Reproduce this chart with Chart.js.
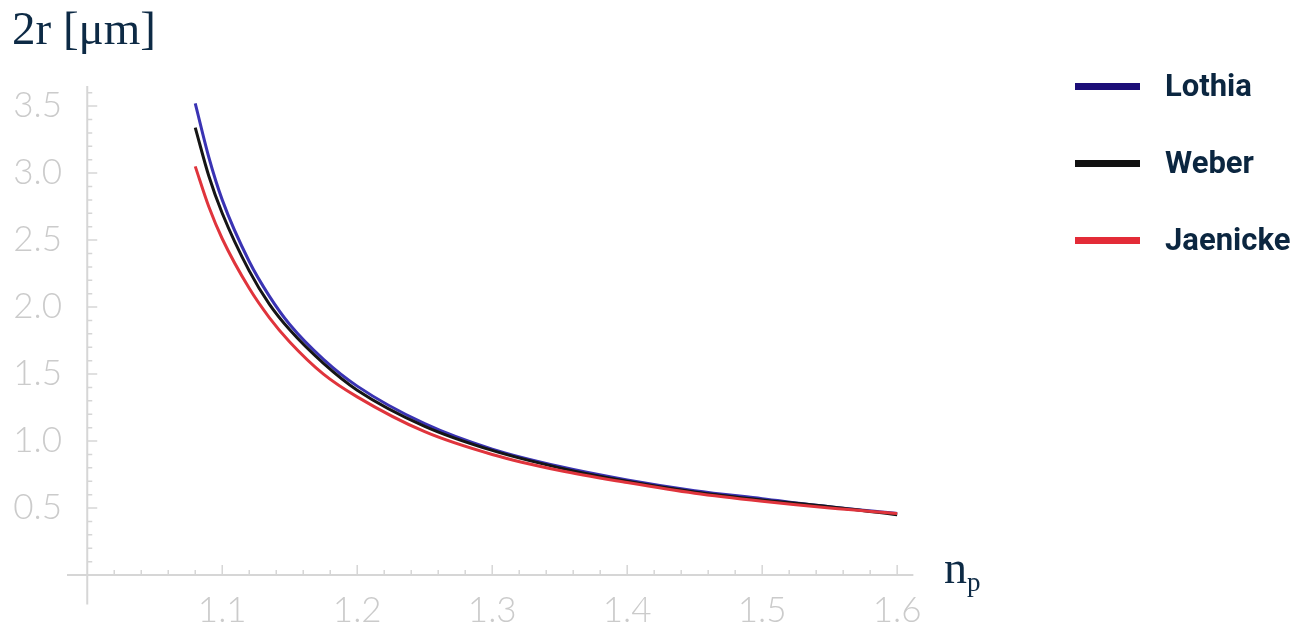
<!DOCTYPE html>
<html>
<head>
<meta charset="utf-8">
<script src="https://cdn.jsdelivr.net/npm/chart.js@4.4.0/dist/chart.umd.min.js"></script>
<style>
  body { margin: 0; background: #fff; }
  #wrap { position: relative; width: 1301px; height: 635px; }
  #wrap canvas { position: absolute; left: 0; top: 0; }
  .axt { position: absolute; font-family: 'Liberation Serif', serif; color: #0d2a45; white-space: nowrap; }
  .legend { position: absolute; left: 1075px; font-family: Roboto, sans-serif; font-weight: 700; font-size: 31px; color: #0b2640; }
  .legend .row { position: absolute; left: 0; height: 0; white-space: nowrap; }
  .legend .sw { position: absolute; left: 0; top: -3px; width: 65px; height: 7px; }
  .legend .tx { position: absolute; left: 90px; top: -19px; line-height: 38px; }
</style>
</head>
<body>
<div id="wrap">
  <canvas id="chart" width="1301" height="635"></canvas>
  <div class="axt" style="left:12px; top:1px; font-size:47px;">2r [μm]</div>
  <div class="axt" style="left:944px; top:541px; font-size:46px;">n<sub style="font-size:27px; vertical-align:-8px;">p</sub></div>
  <div class="legend" id="legend"></div>
</div>
<script>
// refractive index of particle
const nP = [1.08, 1.09, 1.10, 1.12, 1.135, 1.15, 1.175, 1.20, 1.25, 1.30, 1.35, 1.40, 1.45, 1.50, 1.55, 1.60];

// particle diameter 2r in µm
const lothia   = [3.52, 3.12, 2.80, 2.34, 2.08, 1.87, 1.61, 1.41, 1.13, 0.94, 0.81, 0.71, 0.63, 0.57, 0.51, 0.46];
const weber    = [3.34, 2.98, 2.70, 2.27, 2.02, 1.83, 1.58, 1.38, 1.11, 0.93, 0.80, 0.70, 0.62, 0.56, 0.51, 0.45];
const jaenicke = [3.05, 2.75, 2.51, 2.14, 1.92, 1.74, 1.50, 1.33, 1.07, 0.90, 0.78, 0.69, 0.61, 0.55, 0.50, 0.46];

const seriesNames = ['Lothia', 'Weber', 'Jaenicke'];
const xTicks = [1.1, 1.2, 1.3, 1.4, 1.5, 1.6];
const yTicks = [0.5, 1.0, 1.5, 2.0, 2.5, 3.0, 3.5];

const lineColors = ['#3a33b3', '#151515', '#e0343c'];
const legendColors = ['#1c0e78', '#111111', '#e32b37'];
const tickFont = { family: "Lato, sans-serif", size: 35, weight: 300 };

// light grey axes crossing at (1.0, 0) with small tick marks
const axesPlugin = {
    id: 'axes',
    beforeDatasetsDraw(chart) {
        const ctx = chart.ctx;
        const x = chart.scales.x;
        const y = chart.scales.y;
        const x0 = x.getPixelForValue(1.0);
        const y0 = y.getPixelForValue(0);
        ctx.save();
        ctx.strokeStyle = '#d6d6d6';
        ctx.lineWidth = 2;
        ctx.beginPath();
        ctx.moveTo(x.getPixelForValue(0.985), y0);
        ctx.lineTo(x.getPixelForValue(1.612), y0);
        ctx.moveTo(x0, y.getPixelForValue(3.65));
        ctx.lineTo(x0, y.getPixelForValue(-0.22));
        ctx.stroke();
        ctx.lineWidth = 1.5;
        ctx.beginPath();
        for (let i = 1; i <= 30; i++) {
            const px = x.getPixelForValue(1 + i * 0.02);
            const len = i % 5 === 0 ? 10 : 5;
            ctx.moveTo(px, y0);
            ctx.lineTo(px, y0 - len);
        }
        for (let i = 1; i <= 36; i++) {
            const py = y.getPixelForValue(i * 0.1);
            const len = i % 5 === 0 ? 10 : 5;
            ctx.moveTo(x0, py);
            ctx.lineTo(x0 + len, py);
        }
        ctx.stroke();
        ctx.restore();
    }
};

const datasets = [lothia, weber, jaenicke].map((vals, i) => ({
    label: seriesNames[i],
    data: nP.map((n, k) => ({ x: n, y: vals[k] })),
    borderColor: lineColors[i],
    borderWidth: 3,
    pointRadius: 0,
    fill: false,
    cubicInterpolationMode: 'monotone'
}));
// draw red first, blue on top
datasets.reverse();

new Chart(document.getElementById('chart').getContext('2d'), {
    type: 'line',
    data: { datasets: datasets },
    options: {
        responsive: false,
        animation: false,
        layout: { padding: { top: 86, right: 391, left: 0, bottom: 0 } },
        scales: {
            x: {
                type: 'linear',
                min: 0.985,
                max: 1.6095,
                grid: { display: false, drawTicks: false },
                border: { display: false },
                ticks: { font: tickFont, color: '#cbcbcb', padding: 8, maxRotation: 0 },
                afterBuildTicks: s => { s.ticks = xTicks.map(v => ({ value: v })); },
                afterFit: s => { s.height = 53; }
            },
            y: {
                type: 'linear',
                min: -0.052,
                max: 3.65,
                grid: { display: false, drawTicks: false },
                border: { display: false },
                ticks: { font: tickFont, color: '#cbcbcb', padding: 5, callback: v => v.toFixed(1) },
                afterBuildTicks: s => { s.ticks = yTicks.map(v => ({ value: v })); },
                afterFit: s => { s.width = 67; }
            }
        },
        plugins: {
            legend: { display: false },
            tooltip: { enabled: false }
        }
    },
    plugins: [axesPlugin]
});

// legend on the right
const legendEl = document.getElementById('legend');
const rowTops = [86, 163, 240];
seriesNames.forEach((name, i) => {
    const row = document.createElement('div');
    row.className = 'row';
    row.style.top = rowTops[i] + 'px';
    row.innerHTML = '<div class="sw" style="background:' + legendColors[i] + '"></div><div class="tx">' + name + '</div>';
    legendEl.appendChild(row);
});
</script>
</body>
</html>
